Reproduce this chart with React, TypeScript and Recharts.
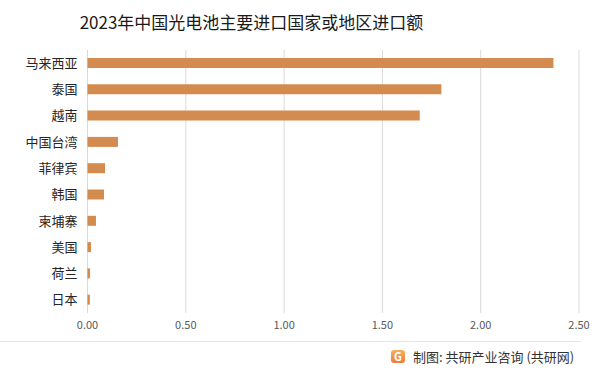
import React from 'react';
import { BarChart, Bar, XAxis, YAxis, CartesianGrid } from 'recharts';

const categories = ['马来西亚', '泰国', '越南', '中国台湾', '菲律宾', '韩国', '柬埔寨', '美国', '荷兰', '日本'];
const values = [2.37, 1.80, 1.69, 0.155, 0.089, 0.084, 0.043, 0.018, 0.013, 0.012];
const xTicks = [0, 0.5, 1, 1.5, 2, 2.5];

const data = categories.map((name, i) => ({ name, value: values[i] }));

const font = '"Noto Sans CJK SC", "Noto Sans", sans-serif';

export default function App() {
  return (
    <div style={{ position: 'fixed', left: 0, top: 0, width: 602, height: 372, background: '#fff', fontFamily: font }}>
      <div style={{ position: 'absolute', left: 0, top: 10, width: 503, textAlign: 'center', fontSize: 17, color: '#1a1a1a', lineHeight: '24px' }}>
        2023年中国光电池主要进口国家或地区进口额
      </div>
      <BarChart
        width={602}
        height={372}
        data={data}
        layout="vertical"
        margin={{ top: 50, right: 23, bottom: 39, left: 7 }}
        barSize={10}
      >
        <CartesianGrid horizontal={false} stroke="#d9d9d9" />
        <XAxis
          type="number"
          domain={[0, 2.5]}
          ticks={xTicks}
          tickFormatter={(v: number) => v.toFixed(2)}
          axisLine={false}
          tickLine={false}
          height={20}
          tick={{ fontSize: 11, fill: '#595959', fontFamily: font }}
        />
        <YAxis
          type="category"
          dataKey="name"
          width={80.5}
          axisLine={false}
          tickLine={false}
          tickMargin={4}
          tick={{ fontSize: 13, fill: '#262626', fontFamily: font }}
        />
        <Bar dataKey="value" fill="#D48B4F" isAnimationActive={false} />
      </BarChart>
      <div style={{ position: 'absolute', left: 0, top: 341, width: 581, height: 1, background: '#e6e6e6' }} />
      <div style={{ position: 'absolute', left: 391, top: 348, height: 16, display: 'flex', alignItems: 'center', fontSize: 13, color: '#333' }}>
        <span style={{ display: 'inline-block', width: 14, height: 13, borderRadius: 3, background: 'linear-gradient(180deg,#f7b05c,#f07a3a)', color: '#fff', fontSize: 11, lineHeight: '13px', textAlign: 'center', fontWeight: 700, marginRight: 8 }}>G</span>
        <span>制图: 共研产业咨询 (共研网)</span>
      </div>
    </div>
  );
}
